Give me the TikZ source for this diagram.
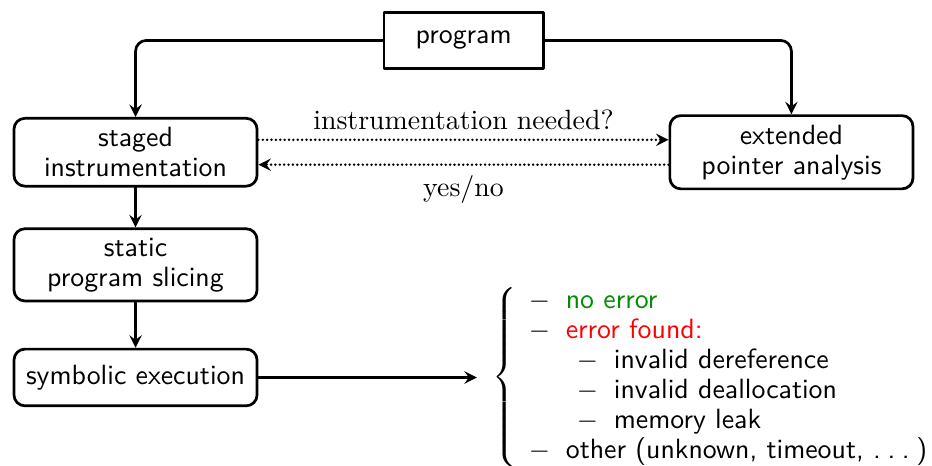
\documentclass[tikz,border=0pt]{standalone}
\usepackage{xcolor}
\definecolor{okgreen}{RGB}{0,140,0}
\newcommand{\tdots}{.\kern0.24em.\kern0.24em.\kern0.24em}
\begin{document}
\begin{tikzpicture}[line cap=round, line join=round, font=\fontsize{10.2}{11}\selectfont, >=stealth, line width=1pt]
			\tikzset{stage/.style={draw, rounded corners, minimum width=3.13cm, minimum height=0.73cm, align=center, font=\fontsize{10.2}{11}\selectfont\sffamily},
				source/.style={draw, minimum width=2.05cm, minimum height=0.72cm, font=\fontsize{10.2}{11}\selectfont\sffamily},
				query/.style={->, dash pattern=on 0pt off 1.6pt, line width=1pt}}
			\useasboundingbox (0,0) rectangle (12,-5.99);
			\node[source] (program) at (5.97,-0.52) {program};
			\node[stage] (staged) at (1.745,-1.96) {staged\\instrumentation};
			\node[stage] (pointer) at (10.19,-1.96) {extended\\pointer analysis};
			\node[stage] (slicing) at (1.745,-3.41) {static\\program slicing};
			\node[stage] (symex) at (1.745,-4.86) {symbolic execution};
			\node[anchor=west, inner sep=0pt, font=\fontsize{10.2}{11}\selectfont\sffamily] (results) at (6.32,-4.86) {$\left\{\begin{tabular}{@{\hspace{4.5pt}}l}
				$-$\hspace{5.8pt}\textcolor{okgreen}{no error}\\
				$-$\hspace{5.8pt}\textcolor{red}{error found:}\\
				\hspace{17.6pt}$-$\hspace{5.8pt}invalid dereference\\
				\hspace{17.6pt}$-$\hspace{5.8pt}invalid deallocation\\
				\hspace{17.6pt}$-$\hspace{5.8pt}memory leak\\
				$-$\hspace{5.8pt}other (unknown, timeout, \tdots)
			\end{tabular}\right.$};
			\draw[->, rounded corners] (program.west) -| (staged.north);
			\draw[->, rounded corners] (program.east) -| (pointer.north);
			\draw[query] ([yshift=0.16cm]staged.east) -- node[above]{instrumentation needed?} ([yshift=0.16cm]pointer.west);
			\draw[query] ([yshift=-0.16cm]pointer.west) -- node[below]{yes/no} ([yshift=-0.16cm]staged.east);
			\draw[->] (staged) -- (slicing);
			\draw[->] (slicing) -- (symex);
			\draw[->] (symex.east) -- ([xshift=-0.18cm]results.west);
		\end{tikzpicture}
\end{document}
